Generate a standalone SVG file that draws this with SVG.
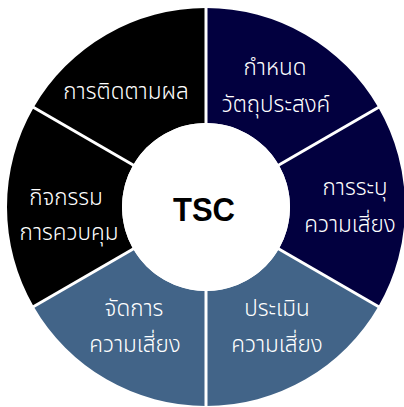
<svg xmlns="http://www.w3.org/2000/svg" width="404" height="407" viewBox="0 0 404 407">
<style>
.navy{fill:#02003f}
.steel{fill:#426488}
.black{fill:#000000}
.lbl{font-family:"Noto Sans Thai","Noto Sans","DejaVu Sans",sans-serif;font-size:22.5px;font-weight:300;fill:#ffffff;text-anchor:middle}
.div{stroke:#ffffff;stroke-width:3;fill:none}
.ttl{font-family:"Liberation Sans",Arial,sans-serif;font-weight:bold;font-size:34px;fill:#000000;text-anchor:middle}
</style>
<rect width="404" height="407" fill="#ffffff"/>
<g id="seg-objective">
<path class="navy" d="M206,8 A199,199 0 0 1 378.34,107.5 L278.75,165 A84,84 0 0 0 206,123 Z"/>
<text class="lbl" x="275" y="75">กำหนด</text>
<text class="lbl" x="276" y="112">วัตถุประสงค์</text>
</g>
<g id="seg-identify">
<path class="navy" d="M378.34,107.5 A199,199 0 0 1 378.34,306.5 L278.75,249 A84,84 0 0 0 278.75,165 Z"/>
<text class="lbl" x="355" y="195">การระบุ</text>
<text class="lbl" x="350" y="232">ความเสี่ยง</text>
</g>
<g id="seg-assess">
<path class="steel" d="M378.34,306.5 A199,199 0 0 1 206,406 L206,291 A84,84 0 0 0 278.75,249 Z"/>
<text class="lbl" x="277" y="316">ประเมิน</text>
<text class="lbl" x="277" y="352">ความเสี่ยง</text>
</g>
<g id="seg-manage">
<path class="steel" d="M206,406 A199,199 0 0 1 33.66,306.5 L133.25,249 A84,84 0 0 0 206,291 Z"/>
<text class="lbl" x="134" y="316">จัดการ</text>
<text class="lbl" x="135" y="352">ความเสี่ยง</text>
</g>
<g id="seg-control">
<path class="black" d="M33.66,306.5 A199,199 0 0 1 33.66,107.5 L133.25,165 A84,84 0 0 0 133.25,249 Z"/>
<text class="lbl" x="66" y="205">กิจกรรม</text>
<text class="lbl" x="69" y="240">การควบคุม</text>
</g>
<g id="seg-monitor">
<path class="black" d="M33.66,107.5 A199,199 0 0 1 206,8 L206,123 A84,84 0 0 0 133.25,165 Z"/>
<text class="lbl" x="126" y="99">การติดตามผล</text>
</g>
<g id="connectors">
<line class="div" x1="206" y1="6" x2="206" y2="124"/>
<line class="div" x1="380" y1="106.5" x2="278" y2="165.5"/>
<line class="div" x1="380" y1="307.5" x2="278" y2="248.5"/>
<line class="div" x1="206" y1="408" x2="206" y2="290"/>
<line class="div" x1="32" y1="307.5" x2="134" y2="248.5"/>
<line class="div" x1="32" y1="106.5" x2="134" y2="165.5"/>
</g>
<g id="center">
<circle cx="206" cy="207" r="84" fill="#ffffff"/>
<text class="ttl" x="204" y="221" textLength="62" lengthAdjust="spacingAndGlyphs">TSC</text>
</g>
</svg>
